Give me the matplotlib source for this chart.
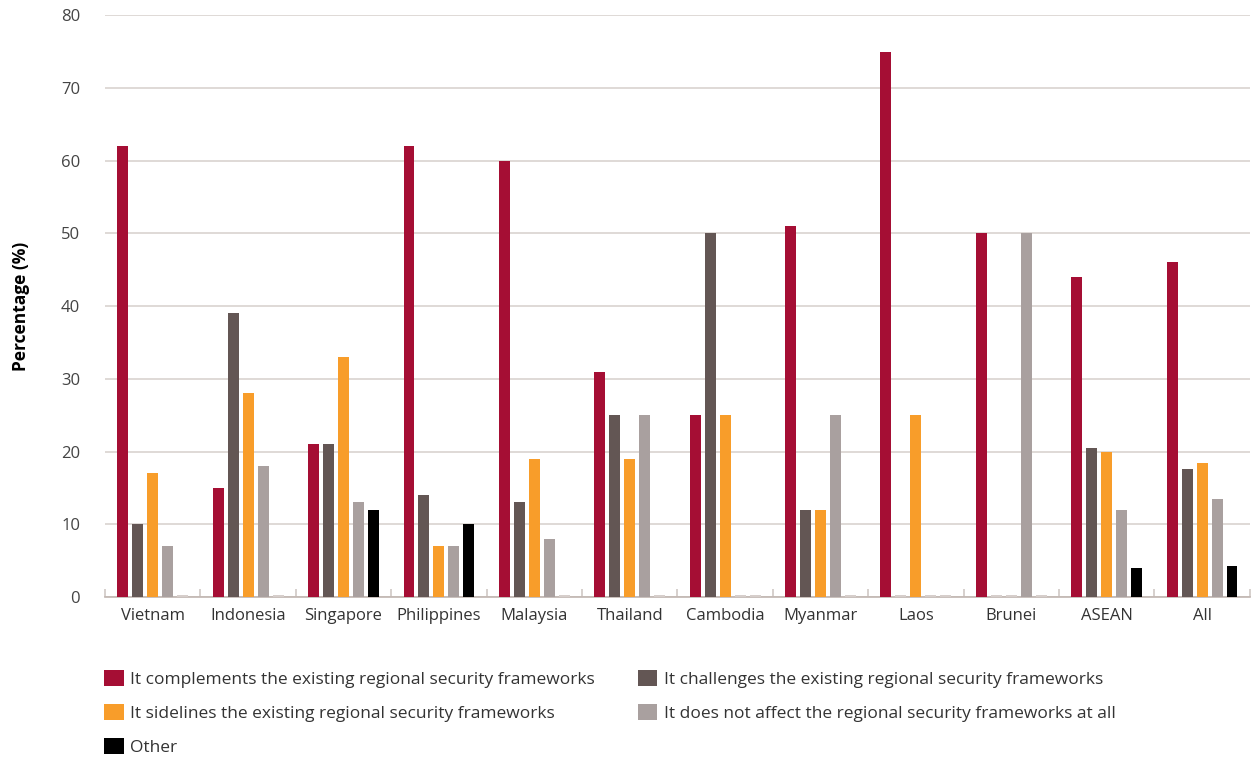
import numpy as np
import matplotlib.pyplot as plt

plt.rcParams['font.family'] = ['Open Sans', 'DejaVu Sans']

countries = ["Vietnam", "Indonesia", "Singapore", "Philippines", "Malaysia", "Thailand",
             "Cambodia", "Myanmar", "Laos", "Brunei", "ASEAN", "All"]

series_names = [
    "It complements the existing regional security frameworks",
    "It challenges the existing regional security frameworks",
    "It sidelines the existing regional security frameworks",
    "It does not affect the regional security frameworks at all",
    "Other",
]

complements = [62, 15, 21, 62, 60, 31, 25, 51, 75, 50, 44, 46]
challenges = [10, 39, 21, 14, 13, 25, 50, 12, 0, 0, 20.5, 17.6]
sidelines = [17, 28, 33, 7, 19, 19, 25, 12, 25, 0, 20, 18.4]
no_effect = [7, 18, 13, 7, 8, 25, 0, 25, 0, 50, 12, 13.5]
other = [0, 0, 12, 10, 0, 0, 0, 0, 0, 0, 4, 4.2]

colors = ["#a50e34", "#635654", "#f89d2a", "#a9a09f", "#000000"]

fig, ax = plt.subplots(figsize=(12.51, 7.58), dpi=100)
fig.subplots_adjust(left=0.084, right=0.999, bottom=0.2124, top=0.980)

x = np.arange(len(countries))
pitch = 0.157
width = 0.115
handles = []
for i, (vals, col, name) in enumerate(zip([complements, challenges, sidelines, no_effect, other],
                                          colors, series_names)):
    pos = x + (i - 2) * pitch
    vals = np.array(vals, dtype=float)
    b = ax.bar(pos, vals, width=width, color=col, label=name, zorder=3)
    handles.append(b)
    # zero values show as a faint sliver on the baseline
    zero = vals == 0
    ax.bar(pos[zero], np.full(zero.sum(), 0.25), width=width, color="#d6cecb", zorder=3)

ax.set_ylim(0, 80)
ax.set_xlim(-0.5, len(countries) - 0.5)
ax.set_yticks(range(0, 81, 10))
ax.grid(axis="y", color="#d9d3d0", linewidth=1.2, zorder=0)
ax.tick_params(axis="y", length=0, pad=18, labelsize=12, labelcolor="#444444")
ax.set_xticks(x)
ax.set_xticklabels(countries)
ax.tick_params(axis="x", length=0, pad=8, labelsize=12, labelcolor="#333333")
ax.set_xticks(np.arange(-0.5, len(countries)), minor=True)
ax.tick_params(axis="x", which="minor", direction="in", length=6, color="#d0c8c5", width=1.2)

for side in ["top", "right", "left"]:
    ax.spines[side].set_visible(False)
ax.spines["bottom"].set_color("#c0b5b0")
ax.spines["bottom"].set_linewidth(1.2)

ax.set_ylabel("Percentage (%)", fontsize=12.5, fontweight="bold")
ax.yaxis.set_label_coords(-0.066, 0.5)

order = [0, 2, 4, 1, 3]
leg = fig.legend([handles[k] for k in order], [series_names[k] for k in order],
                 ncol=2, loc="upper left", bbox_to_anchor=(0.071, 0.137),
                 frameon=False, fontsize=12.5, handlelength=1.1, handleheight=1.1,
                 handletextpad=0.4, columnspacing=2.45, labelspacing=0.9)
for t in leg.get_texts():
    t.set_color("#333333")

fig.savefig("out.png", dpi=100)
